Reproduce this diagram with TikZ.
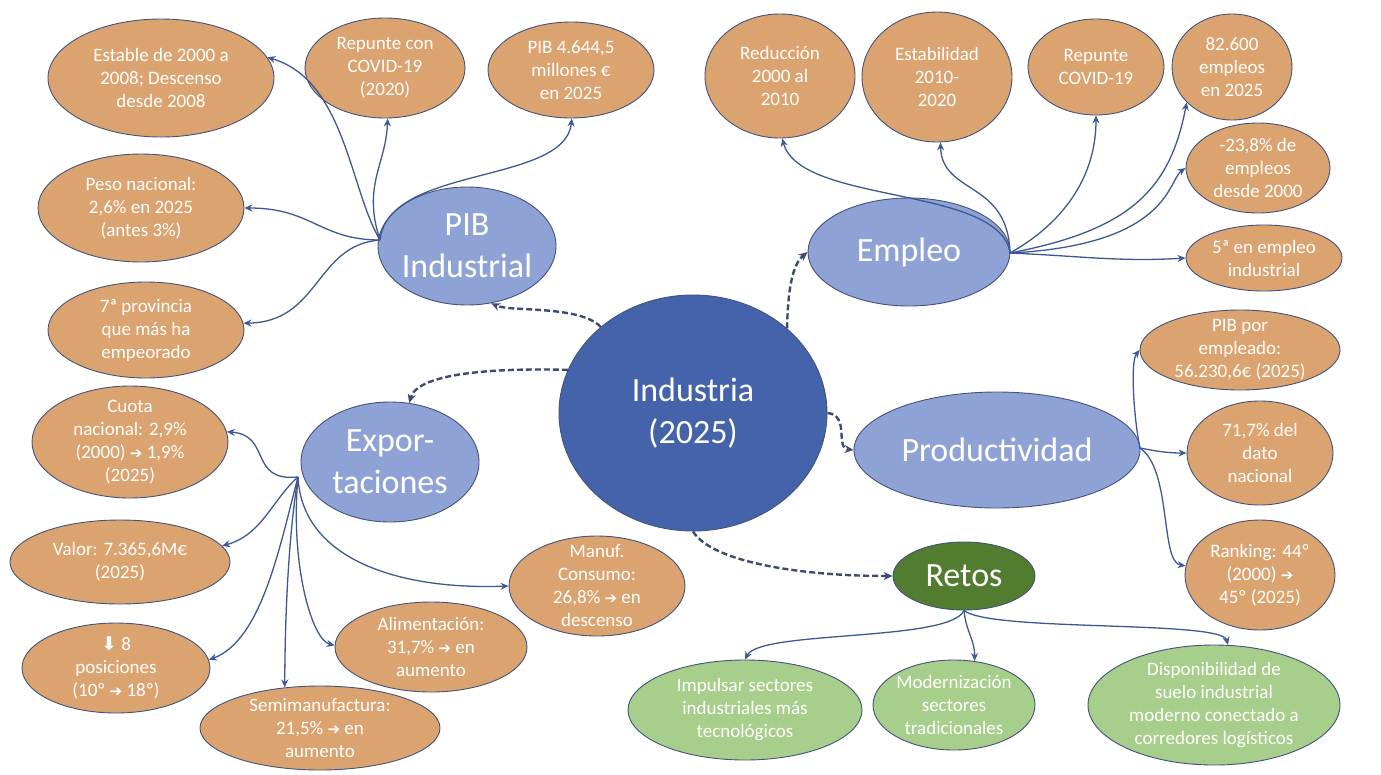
\documentclass[tikz,border=0pt]{standalone}
\usepackage{fontspec}
\setmainfont{Carlito}
\newfontfamily\symfont{DejaVu Sans}
\usetikzlibrary{shapes.geometric,arrows.meta}
\definecolor{orangefill}{RGB}{219,163,111}
\definecolor{lightblue}{RGB}{142,162,213}
\definecolor{darkblue}{RGB}{68,99,171}
\definecolor{darkgreen}{RGB}{82,124,48}
\definecolor{lightgreen}{RGB}{168,206,139}
\definecolor{edgec}{RGB}{66,84,122}
\definecolor{linkc}{RGB}{62,88,148}
\definecolor{dashc}{RGB}{62,74,112}
\newcommand{\myarr}{{\symfont\fontsize{15}{15}\selectfont ➔}}
\newcommand{\mydown}{{\symfont ⬇}}
\begin{document}
\begin{tikzpicture}[x=1pt,y=-1pt,
  oval/.style={ellipse, draw=edgec, line width=0.9pt, inner sep=0pt, fill=orangefill},
  goval/.style={oval, fill=lightgreen},
  mainov/.style={ellipse, draw=edgec, line width=0.9pt, inner sep=0pt, fill=lightblue},
  otext/.style={text=white, align=center, inner sep=0pt, font=\fontsize{19}{23}\selectfont},
  mtext/.style={text=white, align=center, inner sep=0pt, font=\fontsize{34}{42}\selectfont},
  link/.style={draw=linkc, line width=1.3pt, -{Stealth[length=8pt,width=7pt]}},
  dlink/.style={draw=dashc, line width=2.4pt, dash pattern=on 6pt off 3pt, -{Stealth[length=9pt,width=8pt]}}
]
\useasboundingbox[fill=white] (0,0) rectangle (1381,774);

% central and main nodes
\node[mainov, fill=darkblue, minimum width=268, minimum height=236, label={[mtext]center:{Industria\\(2025)}}] (ind) at (693,413) {};
\node[mainov, minimum width=178, minimum height=118, label={[mtext]center:{PIB\\Industrial}}] (pib) at (467,246) {};
\node[mainov, minimum width=202, minimum height=108, label={[mtext]center:{Empleo}}] (emp) at (909,252) {};
\node[mainov, minimum width=286, minimum height=116, label={[mtext]center:{Productividad}}] (prod) at (997,450) {};
\node[mainov, minimum width=178, minimum height=120, label={[mtext]center:{Expor-\\taciones}}] (exp) at (390,462) {};
\node[mainov, fill=darkgreen, minimum width=142, minimum height=68, label={[mtext]center:{Retos}}] (ret) at (964,576) {};

% PIB children
\node[oval, minimum width=226, minimum height=118, label={[otext]center:{Estable de 2000 a\\2008; Descenso\\desde 2008}}] (e1) at (161,78) {};
\node[oval, minimum width=160, minimum height=100, label={[otext]center:{Repunte con\\COVID-19\\(2020)}}] (e2) at (385,68) {};
\node[oval, minimum width=166, minimum height=96, label={[otext]center:{PIB 4.644,5\\millones €\\en 2025}}] (e3) at (571,70) {};
\node[oval, minimum width=206, minimum height=108, label={[otext]center:{Peso nacional:\\2,6\% en 2025\\(antes 3\%)}}] (e4) at (141,208) {};
\node[oval, minimum width=196, minimum height=96, label={[otext]center:{7ª provincia\\que más ha\\empeorado}}] (e5) at (146,330) {};

% Empleo children
\node[oval, minimum width=150, minimum height=124, label={[otext]center:{Reducción\\2000 al\\2010}}] (m1) at (780,76) {};
\node[oval, minimum width=150, minimum height=130, label={[otext]center:{Estabilidad\\2010-\\2020}}] (m2) at (937,77) {};
\node[oval, minimum width=136, minimum height=96, label={[otext]center:{Repunte\\COVID-19}}] (m3) at (1096,67) {};
\node[oval, minimum width=120, minimum height=106, label={[otext]center:{82.600\\empleos\\en 2025}}] (m4) at (1232,67) {};
\node[oval, minimum width=144, minimum height=90, label={[otext]center:{-23,8\% de\\empleos\\desde 2000}}] (m5) at (1258,168) {};
\node[oval, minimum width=156, minimum height=66, label={[otext]center:{5ª en empleo\\industrial}}] (m6) at (1264,258) {};

% Productividad children
\node[oval, minimum width=200, minimum height=80, label={[otext]center:{PIB por\\empleado:\\56.230,6€ (2025)}}] (p1) at (1240,350) {};
\node[oval, minimum width=146, minimum height=104, label={[otext]center:{71,7\% del\\dato\\nacional}}] (p2) at (1260,453) {};
\node[oval, minimum width=150, minimum height=110, label={[otext]center:{Ranking: 44º\\(2000) \myarr\\45º (2025)}}] (p3) at (1260,575) {};

% Exportaciones children
\node[oval, minimum width=196, minimum height=112, label={[otext]center:{Cuota\\nacional: 2,9\%\\(2000) \myarr{} 1,9\%\\(2025)}}] (x1) at (130,442) {};
\node[oval, minimum width=220, minimum height=84, label={[otext]center:{Valor: 7.365,6M€\\(2025)}}] (x2) at (120,562) {};
\node[oval, minimum width=188, minimum height=90, label={[otext]center:{\mydown{} 8\\posiciones\\(10º \myarr{} 18º)}}] (x3) at (116,668) {};
\node[oval, minimum width=240, minimum height=84, label={[otext]center:{Semimanufactura:\\21,5\% \myarr{} en\\aumento}}] (x4) at (320,728) {};
\node[oval, minimum width=192, minimum height=90, label={[otext]center:{Alimentación:\\31,7\% \myarr{} en\\aumento}}] (x5) at (431,647) {};
\node[oval, minimum width=176, minimum height=100, label={[otext]center:{Manuf.\\Consumo:\\26,8\% \myarr{} en\\descenso}}] (x6) at (597,586) {};

% Retos children
\node[goval, minimum width=234, minimum height=100, label={[otext]center:{Impulsar sectores\\industriales más\\tecnológicos}}] (r1) at (745,710) {};
\node[goval, minimum width=162, minimum height=90, label={[otext]center:{Modernización\\sectores\\tradicionales}}] (r2) at (954,705) {};
\node[goval, minimum width=252, minimum height=120, label={[otext]center:{Disponibilidad de\\suelo industrial\\moderno conectado a\\corredores logísticos}}] (r3) at (1214,705) {};

% origins
\coordinate (po) at (380,240);
\coordinate (eo) at (1010,253);
\coordinate (pro) at (1140,448);
\coordinate (xo) at (298,477);
\coordinate (ro) at (ret.-90);

% dashed links
\draw[dlink] (ind.137) .. controls (580,305) and (510,312) .. (pib.-67);
\draw[dlink] (ind.42) .. controls (788,290) and (792,265) .. (emp.180);
\draw[dlink] (ind.161) .. controls (500,368) and (418,372) .. (exp.72);
\draw[dlink] (ind.0) .. controls (850,415) and (835,448) .. (prod.180);
\draw[dlink] (ind.-90) .. controls (712,562) and (800,576) .. (ret.180);

% PIB links
\draw[link] (po) .. controls (350,190) and (345,80) .. (e1.11);
\draw[link] (po) .. controls (362,185) and (386,165) .. (e2.-87);
\draw[link] (po) .. controls (388,165) and (565,185) .. (e3.-89);
\draw[link] (po) .. controls (320,240) and (312,208) .. (e4.0);
\draw[link] (po) .. controls (315,245) and (320,322) .. (e5.4);

% Empleo links
\draw[link] (eo) .. controls (1000,185) and (800,205) .. (m1.-88);
\draw[link] (eo) .. controls (1008,180) and (942,195) .. (m2.-87);
\draw[link] (eo) .. controls (1060,225) and (1096,180) .. (m3.-90);
\draw[link] (eo) .. controls (1130,230) and (1170,190) .. (m4.-142);
\draw[link] (eo) .. controls (1170,245) and (1168,180) .. (m5.180);
\draw[link] (eo) .. controls (1080,256) and (1120,262) .. (m6.180);

% Productividad links
\draw[link] (pro) .. controls (1134,420) and (1130,362) .. (p1.180);
\draw[link] (pro) .. controls (1160,452) and (1170,453) .. (p2.180);
\draw[link] (pro) .. controls (1172,470) and (1160,562) .. (p3.173);

% Exportaciones links
\draw[link] (xo) .. controls (248,482) and (272,435) .. (x1.6);
\draw[link] (xo) .. controls (272,500) and (262,535) .. (x2.9);
\draw[link] (xo) .. controls (280,545) and (262,640) .. (x3.5);
\draw[link] (xo) .. controls (288,540) and (285,620) .. (x4.131);
\draw[link] (xo) .. controls (290,565) and (312,640) .. (x5.179);
\draw[link] (xo) .. controls (302,560) and (400,590) .. (x6.180);

% Retos links
\draw[link] (ro) .. controls (950,642) and (760,630) .. (r1.90);
\draw[link] (ro) .. controls (966,632) and (975,640) .. (r2.65);
\draw[link] (ro) .. controls (990,632) and (1222,620) .. (r3.77);
\end{tikzpicture}
\end{document}
